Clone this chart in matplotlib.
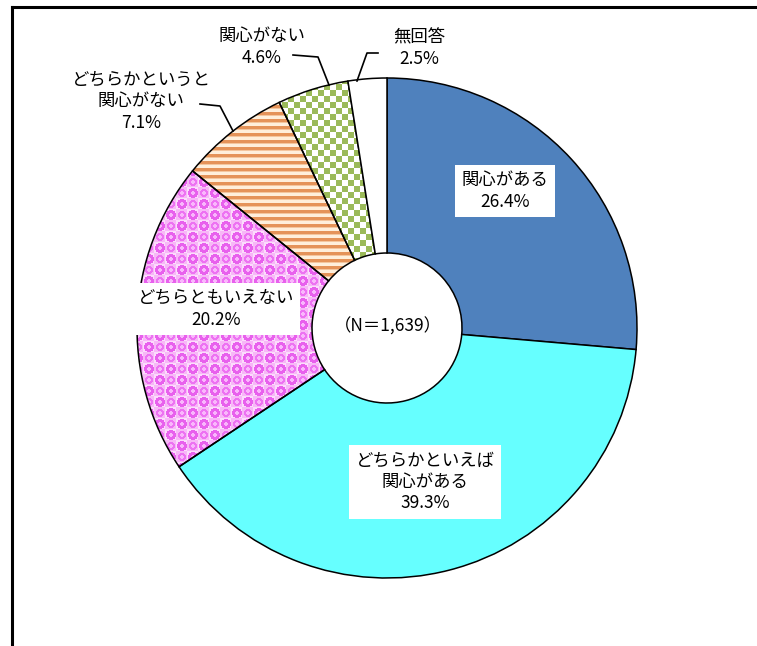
import numpy as np
import matplotlib
matplotlib.use("Agg")
import matplotlib.pyplot as plt

plt.rcParams["font.family"] = ["Noto Sans CJK JP", "DejaVu Sans"]

# data
labels = ["関心がある", "どちらかといえば\n関心がある", "どちらともいえない",
          "どちらかというと\n関心がない", "関心がない", "無回答"]
shares = [26.4, 39.3, 20.2, 7.1, 4.6, 2.5]
total_n = "（N＝1,639）"

W, H = 757, 646


def py(y):
    # pixel row (from top) -> data y
    return H - y


fig = plt.figure(figsize=(W / 100, H / 100), dpi=100)
ax = fig.add_axes([0, 0, 1, 1])

cx, cy, R = 387, py(328), 250
wedges, _ = ax.pie(shares, startangle=90, counterclock=False, radius=R,
                   center=(cx, cy), frame=True,
                   colors=["#4F81BD", "#66FFFF", "none", "none", "none", "white"],
                   wedgeprops=dict(width=R - 75, edgecolor="black", linewidth=1.1))
for w in wedges:
    w.set_zorder(3)

# textures for the patterned slices
yy, xx = np.mgrid[0:H, 0:W]

# pink with magenta bubbles
p = 11
dx = (xx % p) - p / 2
dy = (yy % p) - p / 2
d = np.sqrt(dx ** 2 + dy ** 2)
chk = ((xx // p + yy // p) % 2) == 0
pink = np.ones((H, W, 3)) * np.array([0.99, 0.86, 0.99])
pink[~chk] = [0.97, 0.72, 0.97]
pink[(d < 5.0) & chk] = [0.91, 0.38, 0.93]
pink[(d < 4.0) & ~chk] = [0.93, 0.45, 0.95]
pink[(d < 1.8)] = [0.98, 0.72, 0.99]

# orange stripes
orange = np.ones((H, W, 3)) * np.array([1.0, 0.94, 0.86])
orange[(yy % 7) < 3] = [0.90, 0.58, 0.35]
orange[(yy % 7) == 3] = [0.96, 0.78, 0.62]

# green checker
green = np.ones((H, W, 3))
c = 6
green[((xx // c + yy // c) % 2) == 0] = [0.61, 0.73, 0.35]

for idx, tex in [(2, pink), (3, orange), (4, green)]:
    im = ax.imshow(tex, extent=(0, W, 0, H), origin="upper", zorder=2,
                   interpolation="nearest")
    im.set_clip_path(wedges[idx])

ax.set_xlim(0, W)
ax.set_ylim(0, H)
ax.set_aspect("equal")
ax.axis("off")

fs = 12.5
box = dict(facecolor="white", edgecolor="none", boxstyle="square,pad=0.35")

# labels inside the ring (boxed)
ax.text(505, py(191), f"{labels[0]}\n{shares[0]}%", ha="center", va="center",
        fontsize=fs, linespacing=1.25, bbox=box, zorder=5)
ax.text(425, py(482), f"{labels[1]}\n{shares[1]}%", ha="center", va="center",
        fontsize=fs, linespacing=1.25, bbox=box, zorder=5)
ax.text(216, py(309), f"{labels[2]}\n{shares[2]}%", ha="center", va="center",
        fontsize=fs, linespacing=1.25, bbox=box, zorder=5)

# outside labels with leader lines
ax.text(141, py(101), f"{labels[3]}\n{shares[3]}%", ha="center", va="center",
        fontsize=fs, linespacing=1.25, zorder=5)
ax.text(262, py(47), f"{labels[4]}\n{shares[4]}%", ha="center", va="center",
        fontsize=fs, linespacing=1.25, zorder=5)
ax.text(419, py(48), f"{labels[5]}\n{shares[5]}%", ha="center", va="center",
        fontsize=fs, linespacing=1.25, zorder=5)

ax.plot([200, 220, 233], [py(104), py(106), py(131)], color="black", lw=1.2, zorder=4)
ax.plot([293, 318, 329], [py(55), py(57), py(85)], color="black", lw=1.2, zorder=4)
ax.plot([357, 367, 378], [py(81), py(53), py(53)], color="black", lw=1.2, zorder=4)

# centre text
ax.text(388, py(327), total_n, ha="center", va="center", fontsize=fs, zorder=5)

# frame (only top and left edges are visible)
ax.plot([12, W], [py(7), py(7)], color="black", lw=2.2, zorder=6)
ax.plot([12, 12], [py(7), 0], color="black", lw=2.2, zorder=6)

fig.savefig("out.png", dpi=100)
